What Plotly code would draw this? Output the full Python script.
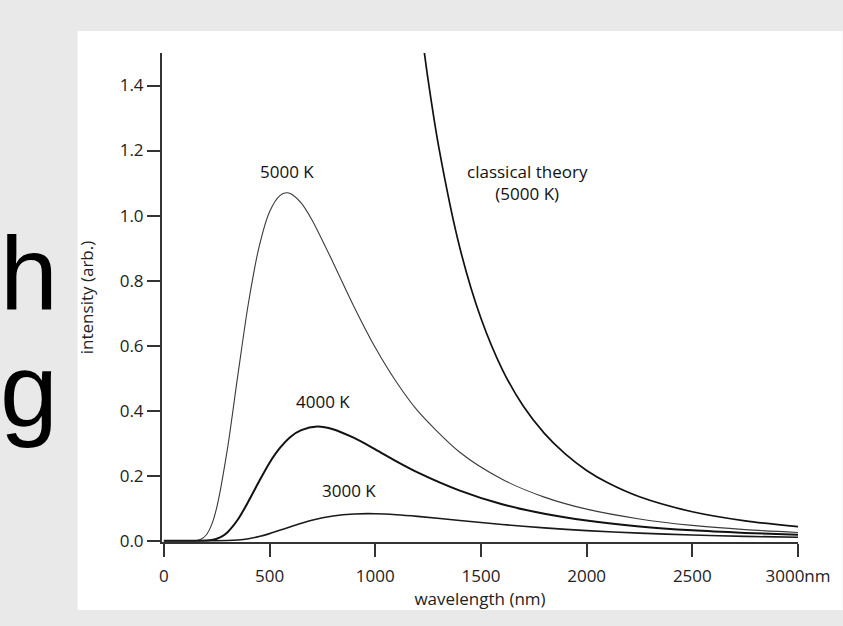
import plotly.graph_objects as go

# wavelength (nm) / intensity (arb.)
WL_5000 = [0, 100, 150, 175, 200, 225, 250, 300, 350, 400, 450, 500, 550, 580, 600, 650, 700,
           800, 900, 1000, 1100, 1200, 1400, 1600, 1800, 2000, 2250, 2500, 2750, 3000]
INT_5000 = [0, 0, 0.0006, 0.0044, 0.0176, 0.048, 0.102, 0.280, 0.510, 0.731, 0.903, 1.012, 1.062,
            1.070, 1.067, 1.038, 0.987, 0.856, 0.719, 0.594, 0.488, 0.400, 0.272, 0.189, 0.134,
            0.097, 0.067, 0.047, 0.034, 0.025]

WL_4000 = [0, 150, 200, 225, 250, 275, 300, 350, 400, 450, 500, 550, 600, 650, 725, 800, 900,
           1000, 1100, 1200, 1400, 1600, 1800, 2000, 2250, 2500, 2750, 3000]
INT_4000 = [0, 0, 0.0005, 0.0020, 0.0058, 0.0132, 0.0254, 0.0652, 0.121, 0.182, 0.240, 0.286,
            0.320, 0.340, 0.351, 0.343, 0.316, 0.281, 0.244, 0.210, 0.154, 0.112, 0.083, 0.062,
            0.044, 0.032, 0.024, 0.018]

WL_3000 = [0, 200, 300, 350, 400, 450, 500, 600, 700, 800, 900, 1000, 1100, 1200, 1400, 1600,
           1800, 2000, 2250, 2500, 2750, 3000]
INT_3000 = [0, 0, 0.0005, 0.0021, 0.0060, 0.0127, 0.0218, 0.0432, 0.0628, 0.0759, 0.0822, 0.0830,
            0.0800, 0.0749, 0.0623, 0.0499, 0.0394, 0.0311, 0.0232, 0.0176, 0.0134, 0.0104]

WL_CLASSICAL = [1220, 1250, 1300, 1400, 1500, 1600, 1700, 1800, 1900, 2000, 2100, 2250, 2500,
                2750, 3000]
INT_CLASSICAL = [1.562, 1.417, 1.212, 0.901, 0.684, 0.528, 0.414, 0.330, 0.266, 0.216, 0.178,
                 0.135, 0.089, 0.061, 0.043]

X_TICKS = [0, 500, 1000, 1500, 2000, 2500, 3000]
X_TICK_TEXT = ["0", "500", "1000", "1500", "2000", "2500", "3000nm"]
Y_TICKS = [0.0, 0.2, 0.4, 0.6, 0.8, 1.0, 1.2, 1.4]

CURVE_LABELS = [
    ("5000 K", 584, 1.136),
    ("4000 K", 755, 0.427),
    ("3000 K", 874, 0.154),
    ("classical theory<br>(5000 K)", 1722, 1.102),
]

FONT = "Open Sans, DejaVu Sans, sans-serif"
W, H = 843, 626
M_L, M_R, M_T, M_B = 162, 40, 53, 84
PW, PH = W - M_L - M_R, H - M_T - M_B


def px_to_paper(px, py):
    return (px - M_L) / PW, (H - M_B - py) / PH


fig = go.Figure()

curves = [
    (WL_5000, INT_5000, 1.1, "#3a3a3a"),
    (WL_4000, INT_4000, 2.0, "#111111"),
    (WL_3000, INT_3000, 1.6, "#1a1a1a"),
    (WL_CLASSICAL, INT_CLASSICAL, 1.7, "#111111"),
]
for wl, inten, width, color in curves:
    fig.add_trace(
        go.Scatter(
            x=wl,
            y=inten,
            mode="lines",
            line={"color": color, "width": width, "shape": "spline", "smoothing": 0.8},
            showlegend=False,
            hoverinfo="skip",
        )
    )

for text, x, y in CURVE_LABELS:
    fig.add_annotation(
        x=x, y=y, text=text, showarrow=False,
        font={"family": FONT, "size": 17, "color": "#111"},
    )

# white card behind the chart and the cut-off slide text on the left
x0, y0 = px_to_paper(77, 610)
x1, y1 = px_to_paper(W + 5, 31)
fig.add_shape(type="rect", xref="paper", yref="paper", x0=x0, y0=y0, x1=x1, y1=y1,
              fillcolor="white", line={"width": 0}, layer="below")

for ch, py in (("h", 273), ("g", 390)):
    ax, ay = px_to_paper(-2, py)
    fig.add_annotation(
        xref="paper", yref="paper", x=ax, y=ay, xanchor="left", yanchor="middle",
        text=ch, showarrow=False, borderpad=0,
        font={"family": "Liberation Sans, Arial, sans-serif", "size": 104, "color": "black"},
    )

axis_common = dict(
    showgrid=False,
    zeroline=False,
    showline=True,
    linecolor="#333",
    linewidth=2,
    ticks="outside",
    ticklen=13,
    tickwidth=1.5,
    tickcolor="#333",
    tickfont={"family": FONT, "size": 17, "color": "#222"},
)

fig.update_xaxes(
    range=[-9, 3000],
    tickvals=X_TICKS,
    ticktext=X_TICK_TEXT,
    ticklabelstandoff=5,
    title={"text": "wavelength (nm)", "font": {"family": FONT, "size": 17, "color": "#222"},
           "standoff": 6},
    **axis_common,
)
fig.update_yaxes(
    range=[-0.004, 1.5],
    tickvals=Y_TICKS,
    tickformat=".1f",
    title={"text": "intensity (arb.)", "font": {"family": FONT, "size": 17, "color": "#222"},
           "standoff": 22},
    **axis_common,
)

fig.update_layout(
    width=W,
    height=H,
    margin={"l": M_L, "r": M_R, "t": M_T, "b": M_B},
    paper_bgcolor="#e9e9e9",
    plot_bgcolor="rgba(0,0,0,0)",
)

fig.write_html(
    "out.html",
    config={"displayModeBar": False},
    post_script="document.body.style.margin='0';document.body.style.overflow='hidden';",
)
